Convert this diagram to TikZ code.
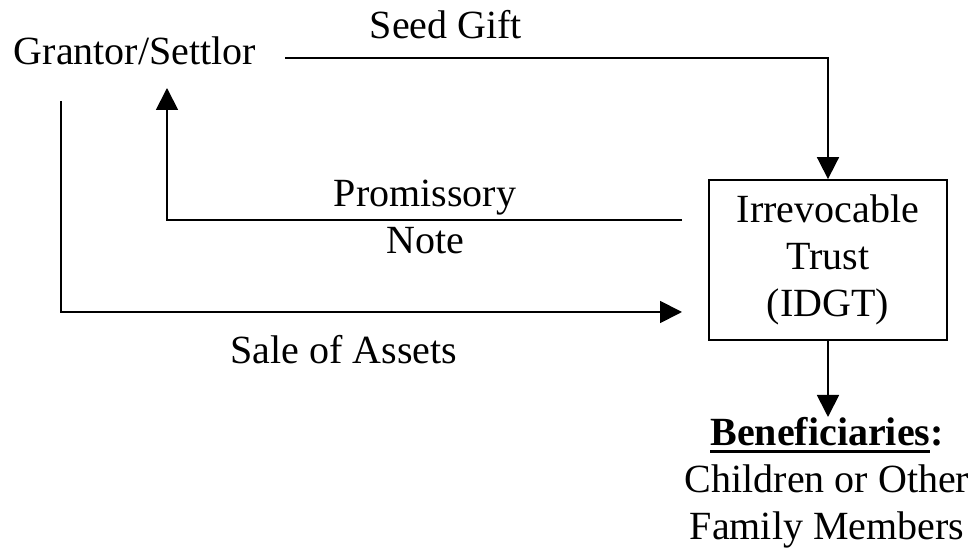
\documentclass[tikz,border=0pt]{standalone}
\usepackage{fontspec}
\setmainfont{Liberation Serif}
\usetikzlibrary{arrows.meta}
% heavier underline than \underline gives
\newcommand{\heavyul}[1]{\setbox0\hbox{#1}\rlap{\rule[-3.7pt]{\wd0}{1.4pt}}\box0}

\begin{document}
\begin{tikzpicture}[x=0.5pt,y=-0.5pt,
  every node/.style={font=\fontsize{20}{23.5}\selectfont},
  link/.style={line width=0.9pt},
  flow/.style={link,-{Triangle[length=11pt,width=11pt]}}]
\useasboundingbox (0,0) rectangle (975,549);

\node[anchor=base] (grantor) at (135,65) {Grantor/Settlor};
\node[draw,link,minimum width=119pt,minimum height=80pt,align=center,inner sep=0pt] (trust) at (828,260) {Irrevocable\\Trust\\(IDGT)};
\node[align=center,anchor=north,inner sep=0pt] (benef) at (827,417) {\textbf{\heavyul{Beneficiaries}:}\\Children or Other\\Family Members};

% labels on the flows
\node[anchor=base] (seed) at (446,39) {Seed Gift};
\node[align=center] (note) at (425,217) {Promissory\\Note};
\node[anchor=base] (sale) at (344,364) {Sale of Assets};

% loose ends of the flows
\coordinate (giftfrom) at (285,58);
\coordinate (notefrom) at (682,220);
\coordinate (noteto) at (167,88);
\coordinate (salefrom) at (61,101);
\coordinate (saleto) at (682,312);

\draw[flow] (giftfrom) -| (trust.north);
\draw[flow] (notefrom) -| (noteto);
\draw[flow] (salefrom) |- (saleto);
\draw[flow] (trust.south) -- (trust.south |- benef.north);
\end{tikzpicture}
\end{document}
